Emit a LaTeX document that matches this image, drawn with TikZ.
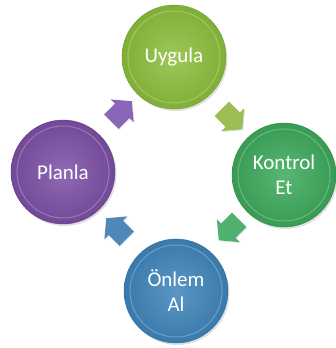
\documentclass[tikz,border=0pt]{standalone}
\usepackage{fontspec}
\setmainfont{Carlito}
\usetikzlibrary{calc,positioning,shapes.arrows,shadows}

\definecolor{uygulacol}{HTML}{8BBE3C}
\definecolor{kontrolcol}{HTML}{3CA95B}
\definecolor{onlemcol}{HTML}{3E84BA}
\definecolor{planlacol}{HTML}{7B4FA5}
\definecolor{uygulaarr}{HTML}{9CBD52}
\definecolor{kontrolarr}{HTML}{50B070}
\definecolor{onlemarr}{HTML}{4F88B8}
\definecolor{planlaarr}{HTML}{8A66B8}

\begin{document}
\begin{tikzpicture}[x=1pt,y=1pt]

\tikzset{phase/.style={circle, minimum size=104pt, inner sep=0pt, align=center,
    text=white, font=\fontsize{21}{25}\selectfont,
    inner color=#1!85!white, outer color=#1!92!black, draw=#1!80!black, line width=0.4pt,
    drop shadow={opacity=0.25, shadow xshift=1.5pt, shadow yshift=-2pt},
    path picture={\draw[white, opacity=0.25, line width=1pt]
      (path picture bounding box.center) circle (46pt);}},
  turn/.style={single arrow, fill=#1, draw=none, minimum height=29pt, inner sep=10pt,
    single arrow head extend=6pt, single arrow tip angle=100,
    drop shadow={opacity=0.2, shadow xshift=1pt, shadow yshift=-1pt}}}

\useasboundingbox (0,0) rectangle (336,348);

% the four steps
\node[phase=uygulacol]  (uygula)  at (174,291) {Uygula};
\node[phase=kontrolcol] (kontrol) at (284,173) {Kontrol\\Et};
\node[phase=onlemcol]   (onlem)   at (176,57)  {Önlem\\Al};
\node[phase=planlacol]  (planla)  at (63,176)  {Planla};

% arrows between them
\node[turn=planlaarr, rotate=45]    (p2u) at ($(planla)!0.5!(uygula)$) {};
\node[turn=uygulaarr, rotate=-45]   (u2k) at ($(uygula)!0.5!(kontrol)$) {};
\node[turn=kontrolarr, rotate=-135] (k2o) at ($(kontrol)!0.5!(onlem)+(2,6)$) {};
\node[turn=onlemarr, rotate=135]    (o2p) at ($(onlem)!0.5!(planla)$) {};

\end{tikzpicture}
\end{document}
